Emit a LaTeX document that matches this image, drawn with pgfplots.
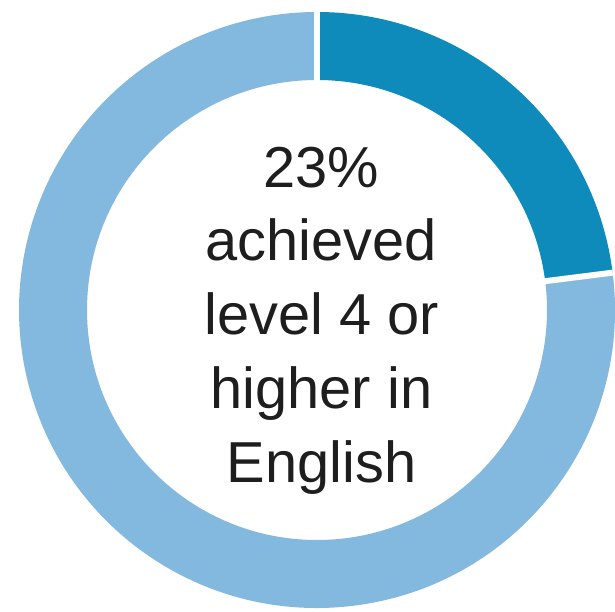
\documentclass[border=0pt]{standalone}
\usepackage{pgfplots}
\usepackage{pgfplotstable}
\pgfplotsset{compat=1.18}
\usepackage{fontspec}
\setmainfont{Liberation Sans}
\definecolor{darkseg}{HTML}{0E8ABB}
\definecolor{lightseg}{HTML}{84B9DF}
\definecolor{txt}{HTML}{1E1E1E}
\pgfplotstableread{
label value
achieved 23
other 77
}\donutdata
\begin{document}
\begin{tikzpicture}
\pgfplotstablegetelem{0}{value}\of\donutdata \let\va\pgfplotsretval
\pgfplotstablegetelem{1}{value}\of\donutdata \let\vb\pgfplotsretval
\pgfmathsetmacro{\total}{\va+\vb}
\pgfmathsetmacro{\aend}{90-360*\va/\total}
\pgfmathsetmacro{\ri}{230/298}
\begin{axis}[x=298bp, y=298bp, xmin=-1.0638, xmax=1.0, ymin=-1.0134, ymax=1.0403,
  hide axis, clip=true]
\fill[darkseg] (axis cs:0,1) arc[start angle=90, end angle=\aend, radius=298bp]
  -- (axis cs:{\ri*cos(\aend)},{\ri*sin(\aend)}) arc[start angle=\aend, end angle=90, radius=230bp] -- cycle;
\fill[lightseg] (axis cs:{cos(\aend)},{sin(\aend)}) arc[start angle=\aend, end angle=-270, radius=298bp]
  -- (axis cs:0,\ri) arc[start angle=-270, end angle=\aend, radius=230bp] -- cycle;
\draw[white, line width=6bp] (axis cs:0,0.7) -- (axis cs:0,1.01);
\draw[white, line width=6bp] (axis cs:{0.7*cos(\aend)},{0.7*sin(\aend)}) -- (axis cs:{1.0*cos(\aend)},{1.0*sin(\aend)});
\node[align=center, text=txt, font=\fontsize{58}{74}\selectfont, anchor=center] at (axis cs:0.015,-0.035)
  {\va\%\\achieved\\level 4 or\\higher in\\English};
\coordinate (bbl) at (axis cs:-1.0638,-1.0134);
\coordinate (btr) at (axis cs:1.0,1.0403);
\end{axis}
\pgfresetboundingbox
\useasboundingbox (bbl) rectangle (btr);
\end{tikzpicture}
\end{document}
